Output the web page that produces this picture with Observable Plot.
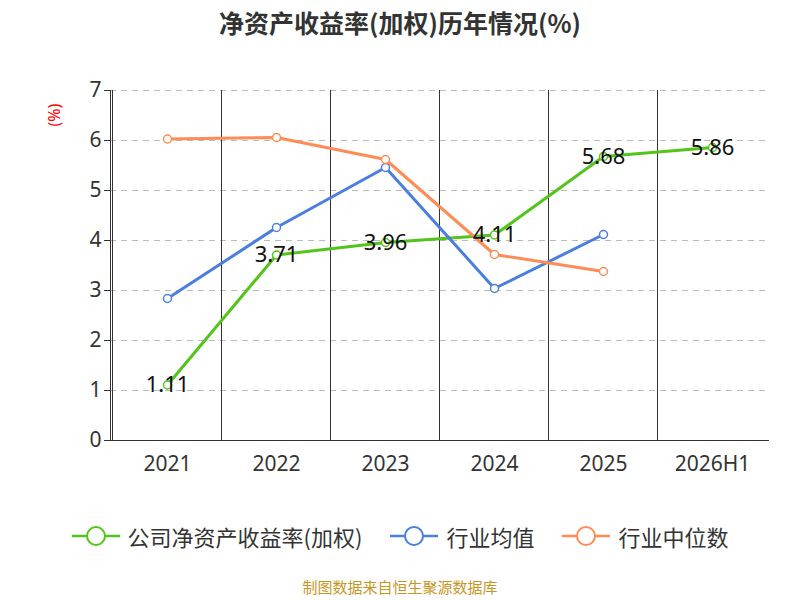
<!DOCTYPE html>
<html><head><meta charset="utf-8">
<script src="https://cdn.jsdelivr.net/npm/d3@7"></script>
<script src="https://cdn.jsdelivr.net/npm/@observablehq/plot@0.6"></script>
<style>
body{margin:0;width:800px;font-family:"Noto Sans CJK SC","Noto Sans",sans-serif;background:#fff}
#title{height:50px;line-height:44px;text-align:center;font-size:25px;font-weight:bold;color:#333}
#legend{display:flex;justify-content:center;gap:28px;font-size:22px;color:#333;margin-top:30px}
.li{display:flex;align-items:center;gap:8px}
#cap{text-align:center;color:#c8961e;font-size:15px;margin-top:24px}
</style></head><body>
<div id="title">净资产收益率(加权)历年情况(%)</div>
<div id="chart"></div>
<div id="legend"></div>
<div id="cap">制图数据来自恒生聚源数据库</div>
<script>
const categories=["2021","2022","2023","2024","2025","2026H1"];
const company=[1.11,3.71,3.96,4.11,5.68,5.86];
const industryAvg=[2.84,4.26,5.46,3.04,4.12];
const industryMed=[6.03,6.06,5.62,3.72,3.38];
const names=["公司净资产收益率(加权)","行业均值","行业中位数"];
const colors=["#52c41a","#4a7fe0","#ff8c55"];
const rows=[];
[company,industryAvg,industryMed].forEach((arr,s)=>arr.forEach((v,i)=>rows.push({s:names[s],x:categories[i],y:v})));
const comp=rows.filter(d=>d.s===names[0]);
const plot=Plot.plot({
 width:800,height:440,marginLeft:110,marginRight:32,marginTop:40,marginBottom:50,
 style:{fontFamily:"Noto Sans, sans-serif",fontSize:"21px",color:"#333"},
 x:{type:"point",domain:categories,padding:0.5,label:null,tickSize:0,tickPadding:16},
 y:{domain:[0,7],label:null},
 color:{domain:names,range:colors},
 marks:[
  Plot.gridY([1,2,3,4,5,6,7],{stroke:"#bbb",strokeOpacity:1,strokeDasharray:"6,5"}),
  Plot.frame({anchor:"bottom",stroke:"#333"}),
  Plot.frame({anchor:"left",stroke:"#333"}),
  Plot.axisY({ticks:[0,1,2,3,4,5,6,7],tickFormat:d3.format("d"),tickSize:6,fontSize:21}),
  Plot.tickX(categories,{x:d=>d,y1:0,dy:0,dx:-55,stroke:"#333",insetTop:0}),
  Plot.line(rows,{x:"x",y:"y",z:"s",stroke:"s",strokeWidth:3}),
  Plot.dot(rows,{x:"x",y:"y",stroke:"s",fill:"white",r:4,strokeWidth:1.5}),
  Plot.text(comp,{x:"x",y:"y",text:d=>d.y.toFixed(2),fontSize:22,fill:"#111",dy:0}),
  Plot.text(["(%)"],{frameAnchor:"top-left",dx:-62,dy:36,rotate:-90,fill:"red",fontSize:16})
 ]
});
document.getElementById("chart").append(plot);
const lg=document.getElementById("legend");
names.forEach((n,i)=>{lg.insertAdjacentHTML("beforeend",`<div class="li"><svg width="48" height="24"><line x1="0" x2="48" y1="12" y2="12" stroke="${colors[i]}" stroke-width="2.5"/><circle cx="24" cy="12" r="9" fill="white" stroke="${colors[i]}" stroke-width="2"/></svg>${n}</div>`)});
</script></body></html>
